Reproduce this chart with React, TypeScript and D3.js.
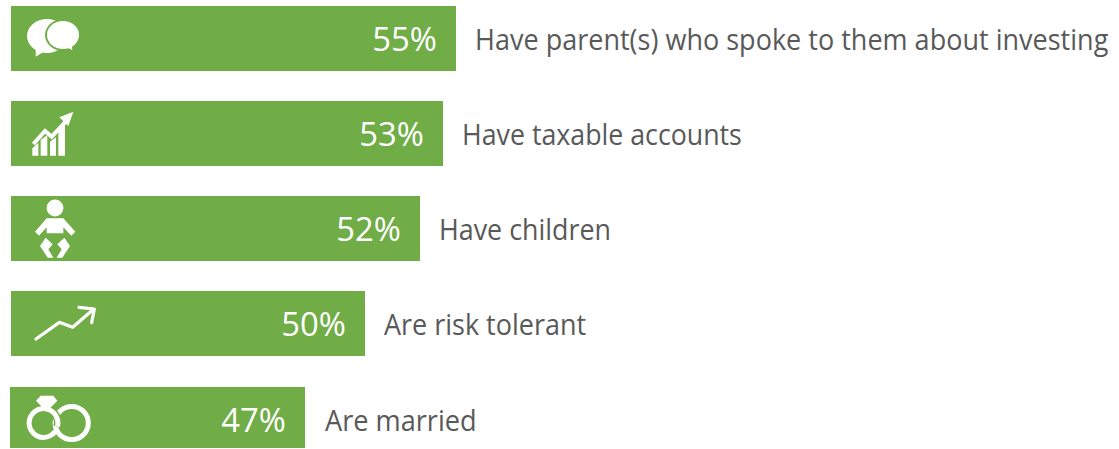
import React from "react";
import * as d3 from "d3";

const W = 1119, H = 449;
const categories = [
  "Have parent(s) who spoke to them about investing",
  "Have taxable accounts",
  "Have children",
  "Are risk tolerant",
  "Are married",
];
const percentLabels = ["55%", "53%", "52%", "50%", "47%"];
// The bars in the picture are not proportional to their labels: these are the drawn lengths.
const drawnLengths = [445, 432, 409, 354, 294];
const barTops = [6, 101, 196, 291, 387];
const barBottoms = [71, 166, 261, 356, 448];
const textRows = [39, 134, 229, 324, 420];
const FONT = "'Open Sans', 'Noto Sans', sans-serif";
const labelScales = [0.901, 0.892, 0.895, 0.9, 0.905];
const labelGaps = [19, 19, 19, 19, 20];
const PCT_SCALE = 0.995;

const x = d3.scaleLinear().domain([0, 445]).range([11, 456]);
const GREEN = "#70AD47";
const TEXT = "#595959";

const pts = (a: number[][]) => d3.line()(a as [number, number][]) + "Z";
const line = (a: number[][]) => d3.line()(a as [number, number][]) as string;
const deg = (v: number) => (v * Math.PI) / 180;
const ringArc = (r: number, w: number, a0: number, a1: number) =>
  d3.arc()({ innerRadius: r - w / 2, outerRadius: r + w / 2, startAngle: deg(a0), endAngle: deg(a1) }) as string;

function Icon({ i }: { i: number }) {
  const z = (p: number[][], oy = 0) => p.map(([a, b]) => [a / 3, b / 3 + oy]);
  if (i === 0)
    return (
      <g>
        <ellipse cx={47} cy={36} rx={20} ry={17} fill="#fff" />
        <path d={pts(z([[107, 170], [107, 140], [140, 150]]))} fill="#fff" />
        <ellipse cx={63} cy={35} rx={18} ry={16} fill={GREEN} />
        <ellipse cx={63} cy={35} rx={16} ry={14} fill="#fff" />
        <path d={pts(z([[195, 140], [217, 150], [215, 128]]))} fill="#fff" />
      </g>
    );
  if (i === 1)
    return (
      <g fill="#fff">
        <path d={pts(z([[97, 445], [115, 428], [115, 467], [97, 467]]))} />
        <path d={pts(z([[122, 420], [142, 405], [142, 467], [122, 467]]))} />
        <path d={pts(z([[150, 425], [168, 412], [168, 467], [150, 467]]))} />
        <path d={pts(z([[175, 392], [195, 375], [195, 467], [175, 467]]))} />
        <path d={line(z([[100, 432], [135, 393], [155, 410], [200, 362]]))} fill="none" stroke="#fff" strokeWidth={4} />
        <path d={pts(z([[220, 335], [178, 352], [205, 378]]))} />
      </g>
    );
  if (i === 2) {
    const oy = 190;
    return (
      <g fill="#fff">
        <circle cx={55} cy={208} r={8.4} />
        <path d={pts(z([[140, 85], [190, 85], [226, 125], [214, 137], [190, 112], [190, 130], [140, 130], [140, 112], [117, 137], [105, 125]], oy))} />
        <path d={pts(z([[120, 168], [137, 143], [158, 163], [145, 178], [160, 203], [143, 203]], oy))} />
        <path d={pts(z([[210, 168], [193, 143], [172, 163], [185, 178], [170, 203], [187, 203]], oy))} />
      </g>
    );
  }
  if (i === 3) {
    const oy = 190;
    return (
      <g fill="none" stroke="#fff" strokeWidth={3.2} strokeLinecap="round" strokeLinejoin="round">
        <path d={line(z([[108, 447], [178, 397], [218, 412], [278, 360]], oy))} />
        <path d={line(z([[237, 352], [283, 357], [275, 398]], oy))} />
      </g>
    );
  }
  return (
    <g>
      <circle cx={71.7} cy={423} r={16.6} fill="none" stroke="#fff" strokeWidth={5} />
      <g transform="translate(43.5,423)">
        <path d={ringArc(14.4, 8, 35, 105)} fill={GREEN} />
        <path d={ringArc(14.4, 5, 125, 465)} fill="#fff" />
      </g>
      <path d={pts(z([[108, 632], [122, 617], [160, 617], [172, 632], [140, 665]], 190))} fill="#fff" />
    </g>
  );
}

export default function App() {
  return (
    <svg width={W} height={H} style={{ position: "absolute", left: 0, top: 0, background: "#fff" }}>
      {categories.map((c, i) => {
        const end = x(drawnLengths[i]);
        const left = i === 4 ? x(-1) : x(0);
        const row = textRows[i];
        return (
          <g key={c}>
            <rect x={left} y={barTops[i]} width={end - left} height={barBottoms[i] - barTops[i]} fill={GREEN} />
            <Icon i={i} />
            <text transform={`translate(${end - 19},${row + 12}) scale(${PCT_SCALE},1)`} textAnchor="end" fill="#fff" fontFamily={FONT} fontSize={33}>
              {percentLabels[i]}
            </text>
            <text transform={`translate(${end + labelGaps[i]},${row + 10.5}) scale(${labelScales[i]},1)`} fill={TEXT} fontFamily={FONT} fontSize={30}>
              {c}
            </text>
          </g>
        );
      })}
    </svg>
  );
}
